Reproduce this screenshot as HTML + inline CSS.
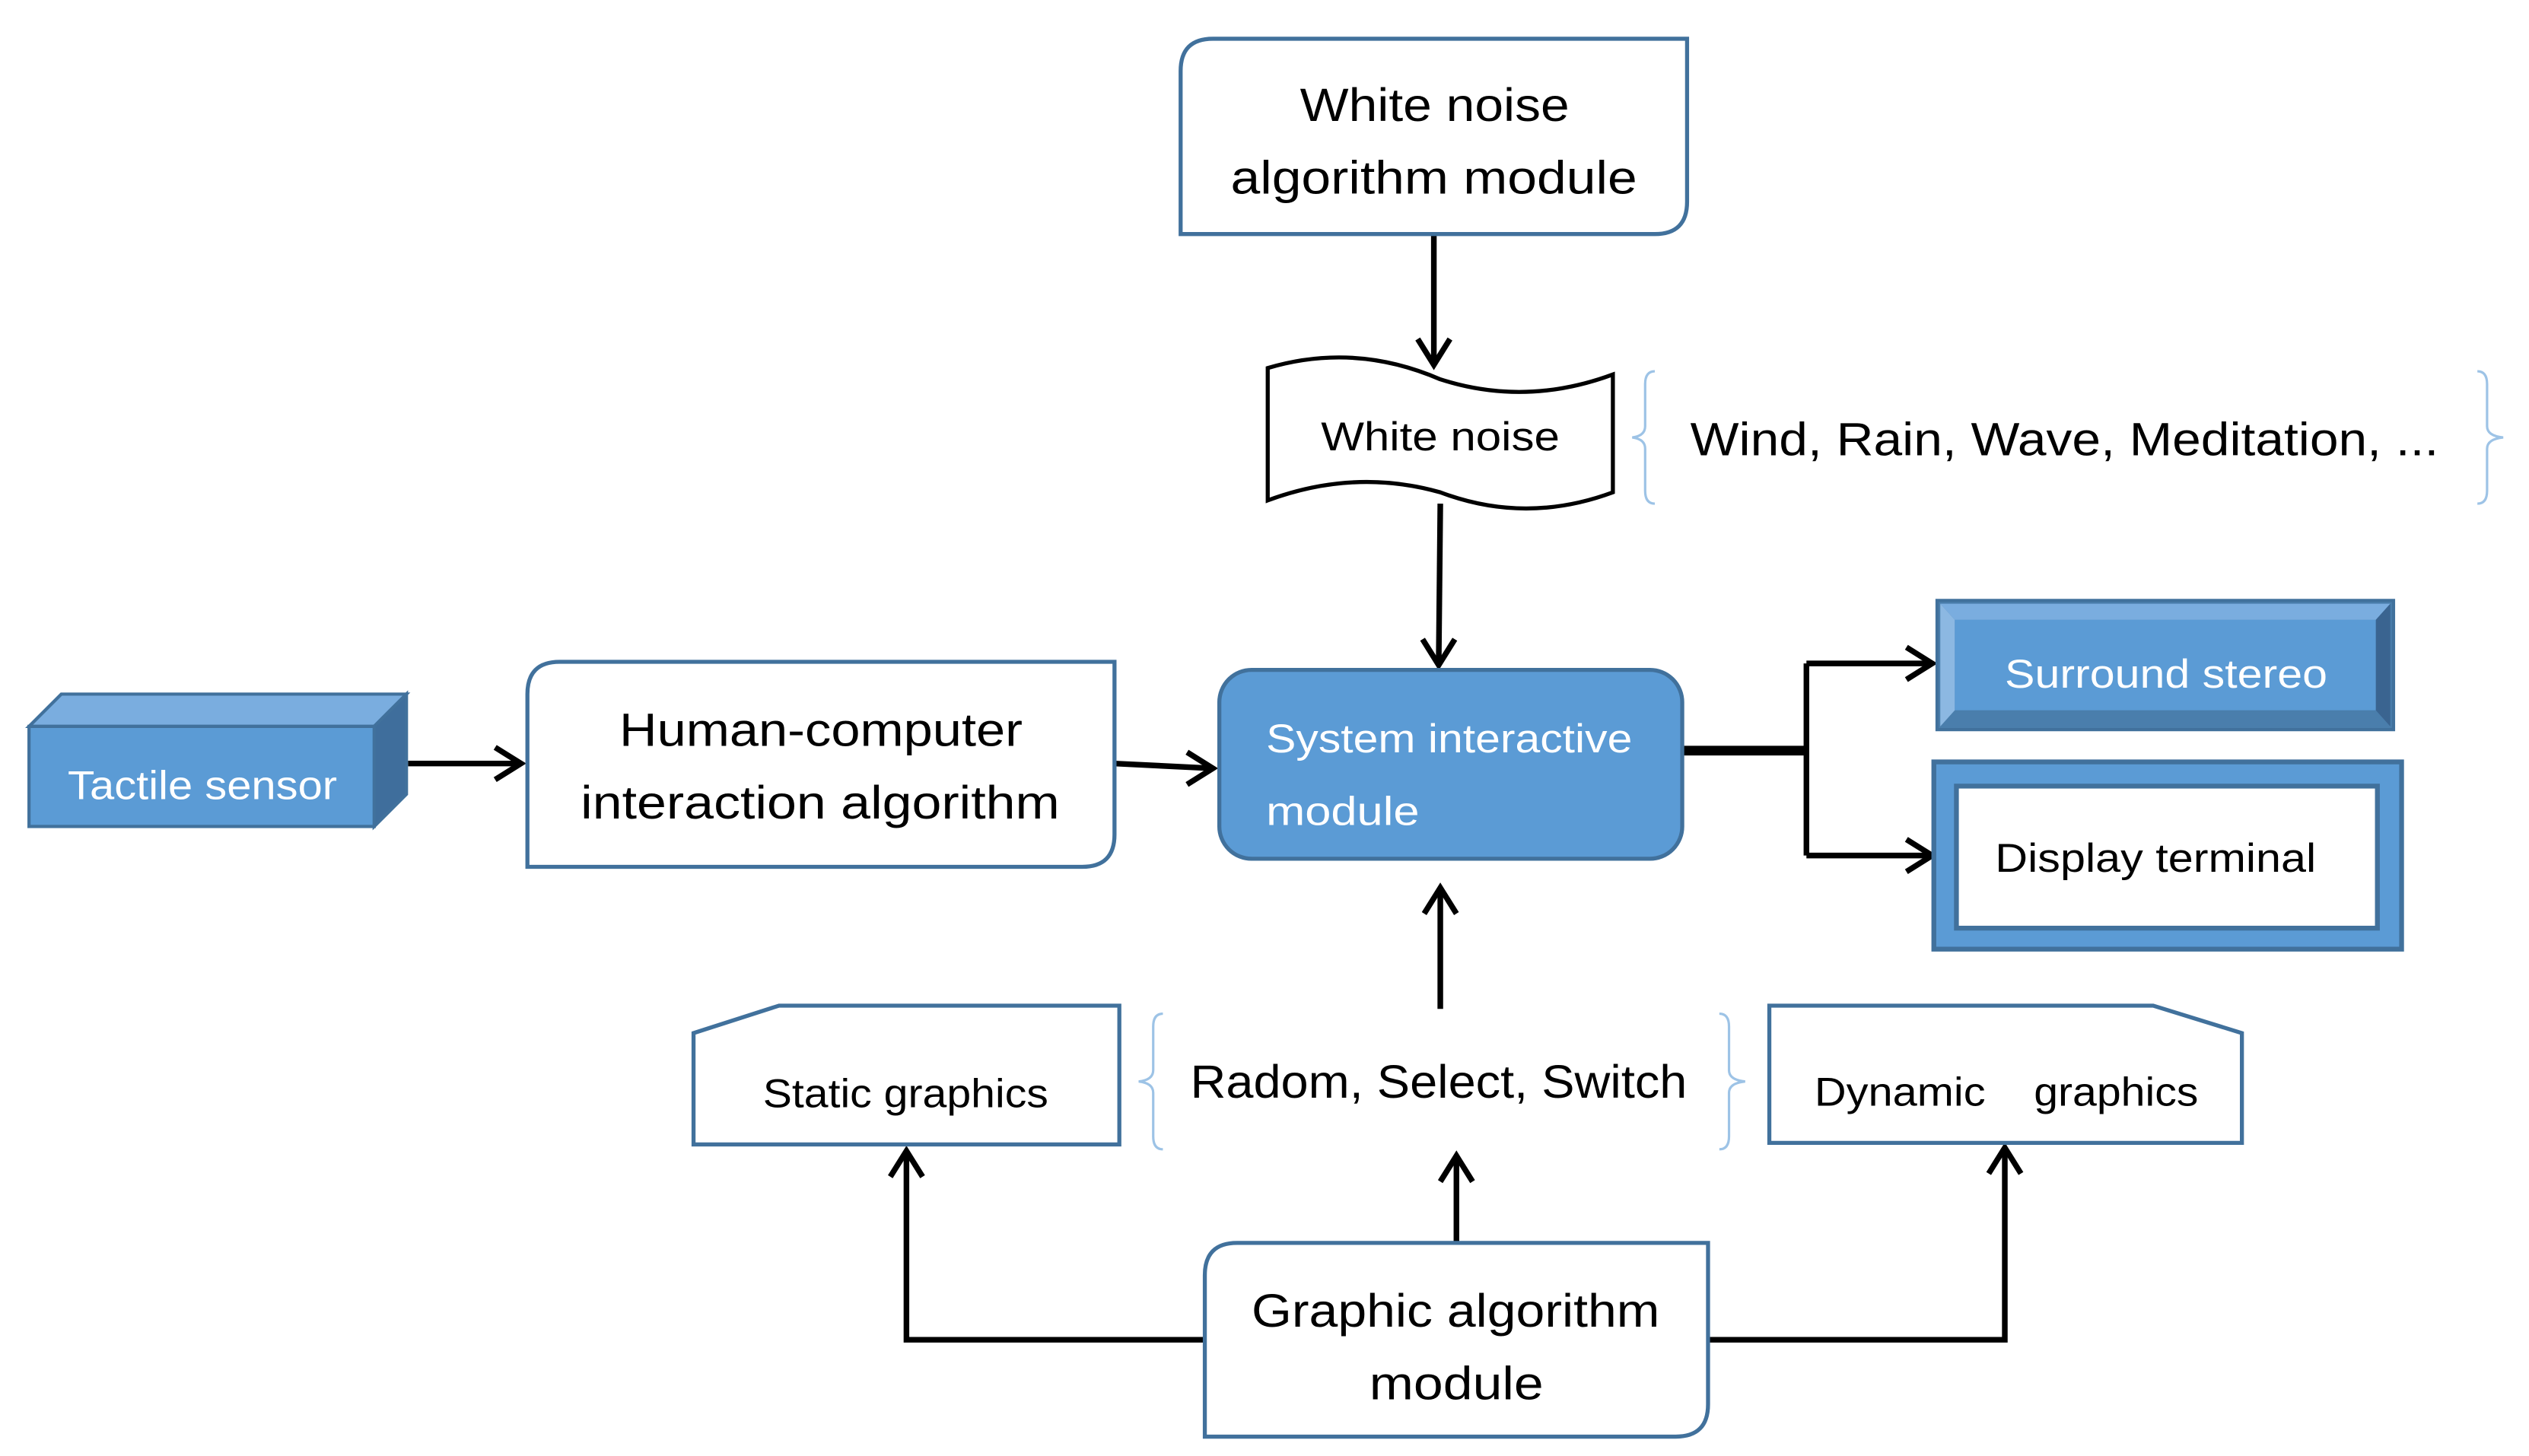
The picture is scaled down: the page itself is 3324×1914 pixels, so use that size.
<!DOCTYPE html>
<html><head><meta charset="utf-8"><style>html,body{margin:0;padding:0;background:#fff}svg{display:block}</style></head>
<body>
<svg width="3324" height="1914" viewBox="0 0 1568 902" preserveAspectRatio="none" xmlns="http://www.w3.org/2000/svg" font-family="Liberation Sans, sans-serif">
<g fill="none" stroke="#000" stroke-width="3.5">
<path d="M889 145 V226"/><path d="M879 210 L889 226 L899 210"/>
<path d="M893 312 L892 412"/><path d="M882 396 L892 412 L902 396"/>
<path d="M253 473 H323"/><path d="M307 463 L323 473 L307 483"/>
<path d="M691 473 L752 476"/><path d="M736 466 L752 476 L736 486"/>
<path d="M1043 465 H1120" stroke-width="6"/>
<path d="M1120 411 V530 M1120 411 H1198 M1120 530 H1198"/>
<path d="M1182 401 L1198 411 L1182 421 M1182 520 L1198 530 L1182 540"/>
<path d="M893 625 V550"/><path d="M883 566 L893 550 L903 566"/>
<path d="M747 830 H562 V713"/><path d="M552 729 L562 713 L572 729"/>
<path d="M903 770 V716"/><path d="M893 732 L903 716 L913 732"/>
<path d="M1059 830 H1243 V711"/><path d="M1233 727 L1243 711 L1253 727"/>
</g>
<g stroke="#41719c" stroke-width="2.5" fill="#fff">
<path d="M752 24 H1046 V125 Q1046 145 1026 145 H732 V44 Q732 24 752 24 Z"/>
<path d="M347 410 H691 V517 Q691 537 671 537 H327 V430 Q327 410 347 410 Z"/>
<path d="M767 770 H1059 V870 Q1059 890 1039 890 H747 V790 Q747 770 767 770 Z"/>
<path d="M430 640 L483 623 H694 V709 H430 Z"/>
<path d="M1097 623 H1335 L1390 640 V708 H1097 Z"/>
<rect x="756" y="415" width="287" height="117" rx="20" fill="#5b9bd5"/>
</g>
<path d="M786 228 Q840 212 893 235 Q946 252 1000 232 V305 Q946 325 893 305 Q840 290 786 310 Z" fill="#fff" stroke="#000" stroke-width="2.5"/>
<path d="M18 450 L38 430 H252 L232 450 Z" fill="#7aaddf" stroke="#41719c" stroke-width="2"/>
<path d="M232 450 L252 430 V492 L232 512 Z" fill="#3f6e9c" stroke="#41719c" stroke-width="2"/>
<rect x="18" y="450" width="214" height="62" fill="#5b9bd5" stroke="#41719c" stroke-width="2"/>
<rect x="1201" y="372" width="283" height="80" fill="#4a7eac" stroke="#41719c" stroke-width="2"/>
<path d="M1203 374 H1482 L1473 384 H1212 Z" fill="#7aaddf"/>
<path d="M1203 374 L1212 384 V440 L1203 450 Z" fill="#8cb8e2"/>
<path d="M1482 374 L1473 384 V440 L1482 450 Z" fill="#3a6490"/>
<rect x="1212" y="384" width="261" height="56" fill="#5b9bd5"/>
<rect x="1199" y="472" width="290" height="116" fill="#5b9bd5" stroke="#41719c" stroke-width="3"/>
<rect x="1213" y="487" width="261" height="88" fill="#fff" stroke="#41719c" stroke-width="3"/>
<g fill="none" stroke="#9dc3e6" stroke-width="1.5">
<path d="M1026 230 Q1020 230 1020 238 V264 Q1020 270 1012 271 Q1020 272 1020 278 V304 Q1020 312 1026 312"/>
<path d="M1536 230 Q1542 230 1542 238 V264 Q1542 270 1552 271 Q1542 272 1542 278 V304 Q1542 312 1536 312"/>
<path d="M721 628 Q715 628 715 636 V663 Q715 669 706 670 Q715 671 715 677 V704 Q715 712 721 712"/>
<path d="M1066 628 Q1072 628 1072 636 V663 Q1072 669 1082 670 Q1072 671 1072 677 V704 Q1072 712 1066 712"/>
</g>
<g font-size="29" fill="#000">
<text x="806" y="75" textLength="167" lengthAdjust="spacingAndGlyphs">White noise</text>
<text x="763" y="120" textLength="252" lengthAdjust="spacingAndGlyphs">algorithm module</text>
<text x="384" y="462" textLength="250" lengthAdjust="spacingAndGlyphs">Human-computer</text>
<text x="360" y="507" textLength="297" lengthAdjust="spacingAndGlyphs">interaction algorithm</text>
<text x="776" y="822" textLength="253" lengthAdjust="spacingAndGlyphs">Graphic algorithm</text>
<text x="849" y="867" textLength="108" lengthAdjust="spacingAndGlyphs">module</text>
<text x="738" y="680" textLength="308" lengthAdjust="spacingAndGlyphs">Radom, Select, Switch</text>
<text x="1048" y="282" textLength="464" lengthAdjust="spacingAndGlyphs">Wind, Rain, Wave, Meditation, ...</text>
<g font-size="25">
<text x="819" y="279" textLength="148" lengthAdjust="spacingAndGlyphs">White noise</text>
<text x="473" y="686" textLength="177" lengthAdjust="spacingAndGlyphs">Static graphics</text>
<text x="1125" y="685" textLength="106" lengthAdjust="spacingAndGlyphs">Dynamic</text>
<text x="1261" y="685" textLength="102" lengthAdjust="spacingAndGlyphs">graphics</text>
<text x="1237" y="540" textLength="199" lengthAdjust="spacingAndGlyphs">Display terminal</text>
<text x="42" y="495" fill="#fff" textLength="167" lengthAdjust="spacingAndGlyphs">Tactile sensor</text>
<text x="1243" y="426" fill="#fff" textLength="200" lengthAdjust="spacingAndGlyphs">Surround stereo</text>
<text x="785" y="466" fill="#fff" textLength="227" lengthAdjust="spacingAndGlyphs">System interactive</text>
<text x="785" y="511" fill="#fff" textLength="95" lengthAdjust="spacingAndGlyphs">module</text>
</g>
</g>
</svg>
</body></html>
